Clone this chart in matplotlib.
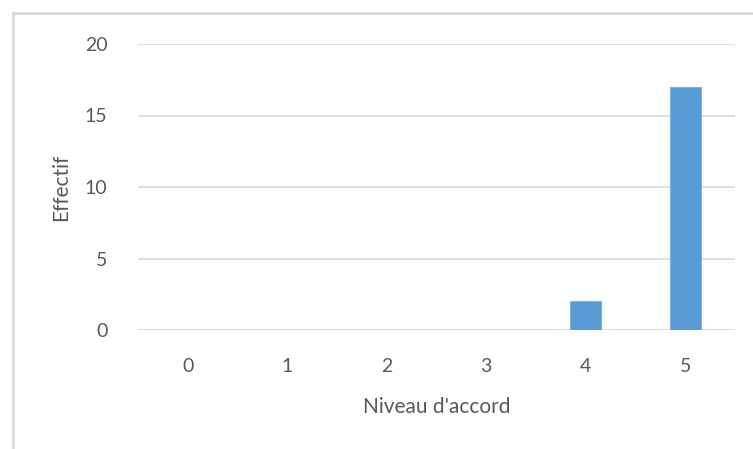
import matplotlib
matplotlib.use('Agg')
import matplotlib.pyplot as plt
from matplotlib.patches import Rectangle

niveaux = ['0', '1', '2', '3', '4', '5']
effectifs = [0, 0, 0, 0, 2, 17]
yticks = [0, 5, 10, 15, 20]

plt.rcParams['font.family'] = ['Lato', 'DejaVu Sans']
txt = '#595959'

fig = plt.figure(figsize=(7.53, 4.49), dpi=100)
fig.patch.set_facecolor('white')

# chart frame (only left and top visible in the crop)
fig.add_artist(Rectangle((13 / 753, -0.1), 1.2, 1 - 13 / 449 + 0.1,
                         transform=fig.transFigure, fill=False,
                         edgecolor='#D9D9D9', linewidth=2))

ax = fig.add_axes([138 / 753, 1 - 330 / 449, 597 / 753, 286 / 449])
x = list(range(len(niveaux)))
ax.bar(x, effectifs, width=0.31, color='#5B9BD5', edgecolor='#7FB2E0',
       linewidth=0.8, zorder=3)
ax.set_xlim(-0.5, len(niveaux) - 0.5)
ax.set_ylim(0, 20)
ax.set_yticks(yticks)
ax.set_xticks(x)
ax.set_xticklabels(niveaux)
ax.grid(axis='y', color='#D9D9D9', linewidth=1.2, zorder=0)
for s in ax.spines.values():
    s.set_visible(False)
ax.tick_params(length=0, labelsize=14, colors=txt)
ax.tick_params(axis='y', pad=22)
ax.tick_params(axis='x', pad=20)
ax.set_xlabel("Niveau d'accord", fontsize=15, color=txt, labelpad=16)
ax.set_ylabel('Effectif', fontsize=15, color=txt, labelpad=10)

fig.savefig('out.png', dpi=100)
